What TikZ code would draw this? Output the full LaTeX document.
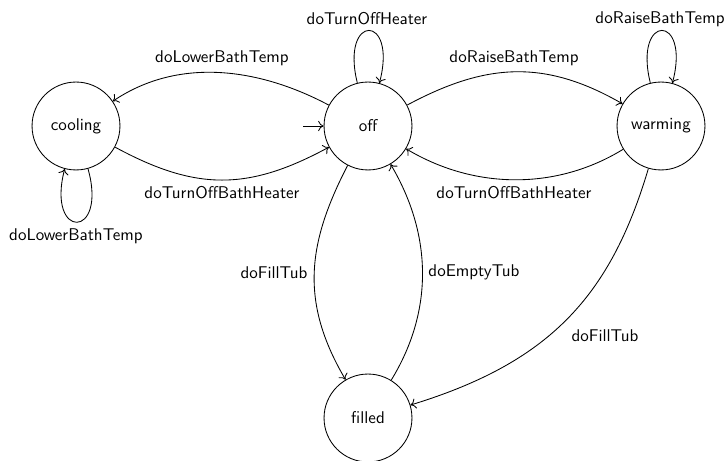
\documentclass[tikz,border=0pt]{standalone}
\usetikzlibrary{arrows.meta}
\begin{document}
\begin{tikzpicture}[x=0.588pt,y=-0.588pt,
  every node/.style={font=\sffamily},
  state/.style={circle,draw,line width=0.5pt,minimum size=51.7pt,inner sep=0pt},
  edge/.style={draw,line width=0.5pt,-{To[length=3.2pt,width=6pt]}},
  lbl/.style={inner sep=0pt}]
\useasboundingbox (0,0) rectangle (725,461);
\node[state] (cooling) at (76,126) {cooling};
\node[state] (off) at (368,126) {off};
\node[state] (warming) at (661,126) {warming};
\node[state] (filled) at (368,418) {filled};
\coordinate (init) at (303,126);
\draw[edge] (init) -- (off);
% off <-> cooling
\draw[edge] (off) .. controls (261,69) and (180,56) .. (cooling);
\draw[edge] (cooling) .. controls (196,191) and (248,191) .. (off);
% off <-> warming
\draw[edge] (off) .. controls (484,64) and (543,58) .. (warming);
\draw[edge] (warming) .. controls (557,190) and (475,190) .. (off);
% off <-> filled
\draw[edge] (off) .. controls (307,244) and (300,302) .. (filled);
\draw[edge] (filled) .. controls (433,312) and (433,236) .. (off);
% warming -> filled
\draw[edge] (warming) .. controls (610,298) and (548,363) .. (filled);
% loops
\draw[edge] (off) .. controls (340,13) and (398,13) .. (off);
\draw[edge] (warming) .. controls (633,13) and (691,13) .. (warming);
\draw[edge] (cooling) .. controls (108,240) and (46,240) .. (cooling);
% labels
\node[lbl] (l1) at (222,58) {doLowerBathTemp};
\node[lbl] (l2) at (222,193) {doTurnOffBathHeater};
\node[lbl] (l3) at (367,19) {doTurnOffHeater};
\node[lbl] (l4) at (514,58) {doRaiseBathTemp};
\node[lbl] (l5) at (660,19) {doRaiseBathTemp};
\node[lbl] (l6) at (514,193) {doTurnOffBathHeater};
\node[lbl] (l7) at (76,236) {doLowerBathTemp};
\node[lbl] (l8) at (274,273) {doFillTub};
\node[lbl] (l9) at (474,272) {doEmptyTub};
\node[lbl] (l10) at (605,336) {doFillTub};
\end{tikzpicture}
\end{document}
